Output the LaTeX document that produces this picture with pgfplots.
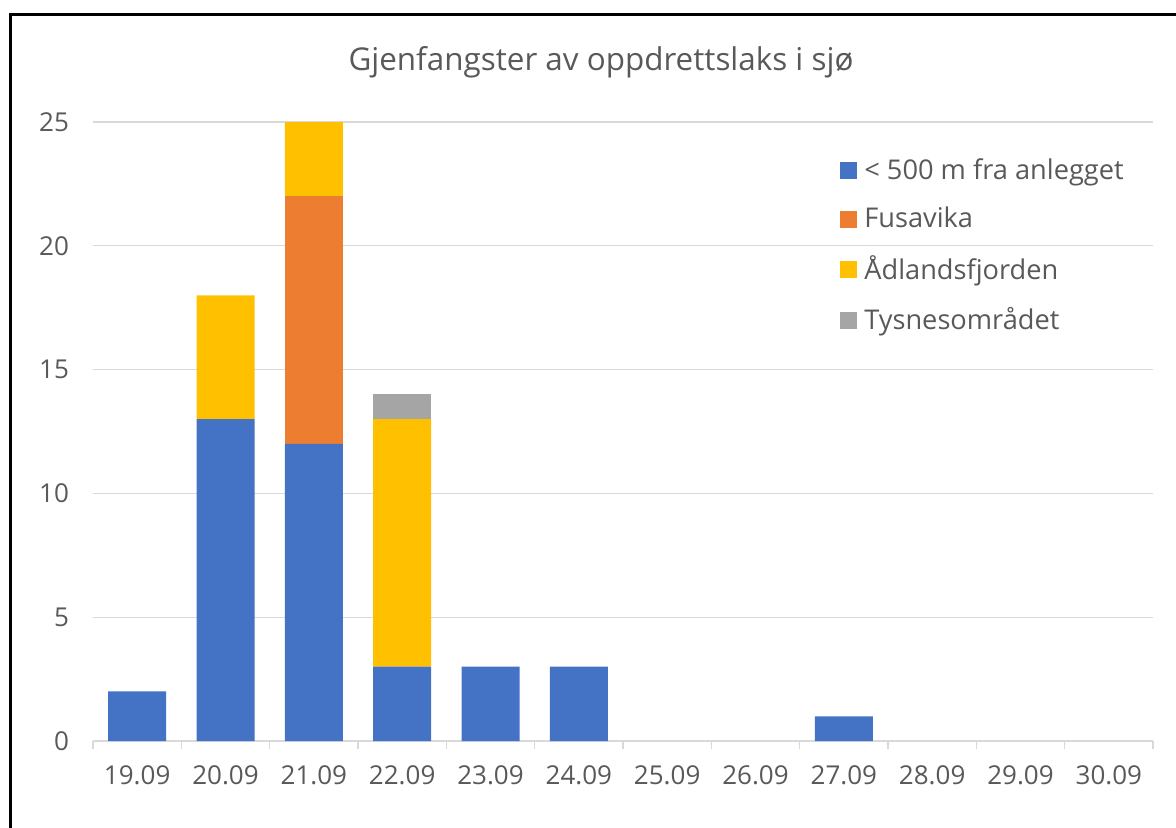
\documentclass[border=0pt]{standalone}
\usepackage{pgfplots}
\pgfplotsset{compat=1.18}
\usepackage{fontspec}
\setmainfont{Open Sans}
\definecolor{cblue}{HTML}{4472C4}
\definecolor{corange}{HTML}{ED7D31}
\definecolor{cyellow}{HTML}{FFC000}
\definecolor{cgray}{HTML}{A5A5A5}
\definecolor{gridc}{HTML}{D9D9D9}
\definecolor{txt}{HTML}{595959}
\begin{document}
\begin{tikzpicture}
\useasboundingbox (0,0) rectangle (588pt,413.5pt);
\draw[line width=1.5pt] (5.35pt,-20pt) rectangle (620pt,406.35pt);
\node[text=txt, font=\fontsize{15.7pt}{18pt}\selectfont] at (300.5pt,382.5pt) {Gjenfangster av oppdrettslaks i sjø};
\begin{axis}[
  at={(46.5pt,43pt)}, anchor=south west,
  scale only axis, width=530pt, height=309.5pt,
  ybar stacked, bar width=29pt,
  xmin=-0.5, xmax=11.5, ymin=0, ymax=25,
  axis x line*=bottom, axis y line*=left,
  y axis line style={draw=none},
  x axis line style={draw=gridc, line width=0.75pt},
  xtick={0,...,11},
  xticklabels={19.09,20.09,21.09,22.09,23.09,24.09,25.09,26.09,27.09,28.09,29.09,30.09},
  minor xtick={-0.5,0.5,...,11.5},
  major tick length=0pt,
  minor tick length=4pt,
  tick align=outside,
  minor tick style={draw=gridc, line width=0.75pt},
  ytick={0,5,...,25},
  ymajorgrids, grid style={draw=gridc, line width=0.6pt},
  tick label style={text=txt, font=\fontsize{13pt}{15pt}\selectfont},
  /pgf/number format/assume math mode=true,
  yticklabel style={xshift=-8.5pt},
  xticklabel style={yshift=-9pt},
  legend style={draw=none, fill=none, at={(0.699,0.9548)}, anchor=north west,
     font=\fontsize{13.6pt}{16pt}\selectfont, text=txt, row sep=8.5pt,
     /tikz/every even column/.append style={column sep=0pt}},
  legend cell align=left,
  legend image code/.code={\fill[#1] (0pt,-4.25pt) rectangle (8.5pt,4.25pt); \path (10pt,0pt);},
]
\addplot[fill=cblue, draw=none] coordinates {(0,2) (1,13) (2,12) (3,3) (4,3) (5,3) (6,0) (7,0) (8,1) (9,0) (10,0) (11,0)};
\addplot[fill=corange, draw=none] coordinates {(0,0) (1,0) (2,10) (3,0) (4,0) (5,0) (6,0) (7,0) (8,0) (9,0) (10,0) (11,0)};
\addplot[fill=cyellow, draw=none] coordinates {(0,0) (1,5) (2,3) (3,10) (4,0) (5,0) (6,0) (7,0) (8,0) (9,0) (10,0) (11,0)};
\addplot[fill=cgray, draw=none] coordinates {(0,0) (1,0) (2,0) (3,1) (4,0) (5,0) (6,0) (7,0) (8,0) (9,0) (10,0) (11,0)};
\legend{{< 500 m fra anlegget},Fusavika,Ådlandsfjorden,Tysnesområdet}
\end{axis}
\end{tikzpicture}
\end{document}
